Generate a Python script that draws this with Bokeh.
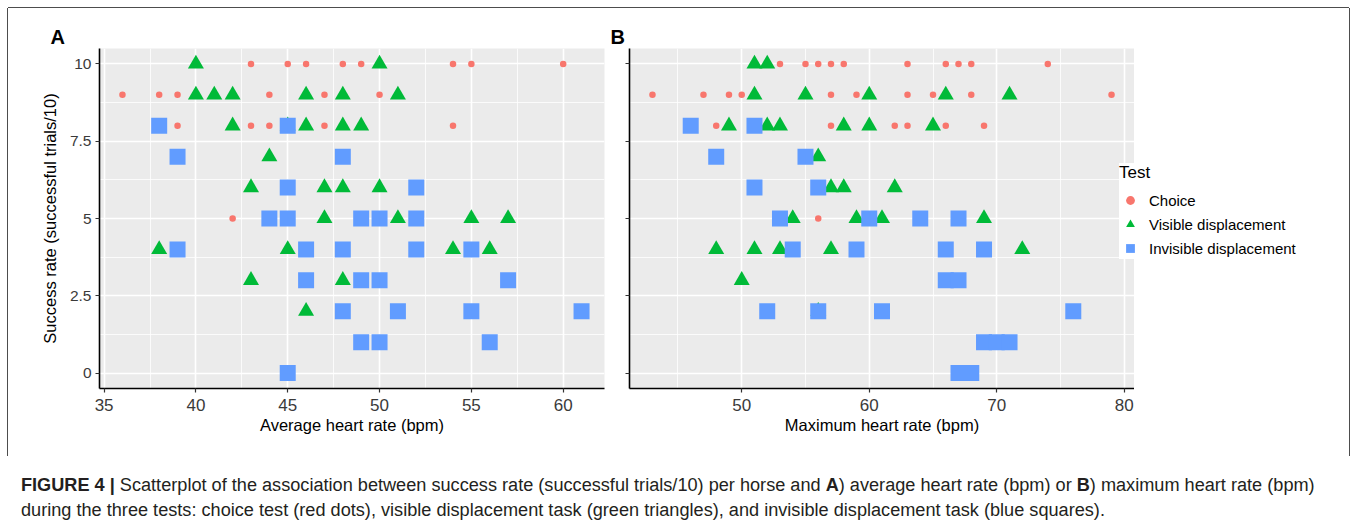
from bokeh.plotting import figure
from bokeh.models import Range1d, FixedTicker, Legend, LegendItem, Div, CustomLabelingPolicy
from bokeh.layouts import row, column
from bokeh.embed import file_html
from bokeh.resources import INLINE

# ---------------- data ----------------
series_names = ["Choice", "Visible displacement", "Invisible displacement"]

# Panel A: average heart rate (bpm) vs success rate
choice_a_x = [43, 45, 46, 48, 49, 54, 55, 60,
              36, 38, 39, 44, 47, 50,
              39, 43, 44, 47, 54,
              42]
choice_a_y = [10, 10, 10, 10, 10, 10, 10, 10,
              9, 9, 9, 9, 9, 9,
              8, 8, 8, 8, 8,
              5]

visible_a_x = [40, 50,
               40, 41, 42, 46, 48, 51,
               42, 45, 46, 48, 49,
               44,
               43, 47, 48, 50,
               47, 51, 55, 57,
               38, 45, 54, 56,
               43, 48,
               46]
visible_a_y = [10, 10,
               9, 9, 9, 9, 9, 9,
               8, 8, 8, 8, 8,
               7,
               6, 6, 6, 6,
               5, 5, 5, 5,
               4, 4, 4, 4,
               3, 3,
               2]

invisible_a_x = [38, 45,
                 39, 48,
                 45, 52,
                 44, 45, 49, 50, 52,
                 39, 46, 48, 52, 55,
                 46, 49, 50, 57,
                 48, 51, 55, 61,
                 49, 50, 56,
                 45]
invisible_a_y = [8, 8,
                 7, 7,
                 6, 6,
                 5, 5, 5, 5, 5,
                 4, 4, 4, 4, 4,
                 3, 3, 3, 3,
                 2, 2, 2, 2,
                 1, 1, 1,
                 0]

# Panel B: maximum heart rate (bpm) vs success rate
choice_b_x = [53, 55, 56, 57, 58, 63, 66, 67, 68, 74,
              43, 47, 49, 50, 57, 59, 63, 65, 68, 79,
              48, 57, 62, 63, 66, 69,
              56]
choice_b_y = [10, 10, 10, 10, 10, 10, 10, 10, 10, 10,
              9, 9, 9, 9, 9, 9, 9, 9, 9, 9,
              8, 8, 8, 8, 8, 8,
              5]

visible_b_x = [51, 52,
               51, 55, 60, 66, 71,
               49, 52, 53, 58, 60, 65,
               56,
               57, 58, 62,
               54, 59, 61, 69,
               48, 51, 53, 57, 72,
               50,
               56]
visible_b_y = [10, 10,
               9, 9, 9, 9, 9,
               8, 8, 8, 8, 8, 8,
               7,
               6, 6, 6,
               5, 5, 5, 5,
               4, 4, 4, 4, 4,
               3,
               2]

invisible_b_x = [46, 51,
                 48, 55,
                 51, 56,
                 53, 60, 64, 67,
                 54, 59, 66, 69,
                 66, 67,
                 52, 56, 61, 76,
                 69, 70, 71,
                 67, 68]
invisible_b_y = [8, 8,
                 7, 7,
                 6, 6,
                 5, 5, 5, 5,
                 4, 4, 4, 4,
                 3, 3,
                 2, 2, 2, 2,
                 1, 1, 1,
                 0, 0]

x_ticks_a = [35, 40, 45, 50, 55, 60]
x_minor_a = [37.5, 42.5, 47.5, 52.5, 57.5, 62.5]
x_ticks_b = [50, 60, 70, 80]
x_minor_b = [45, 55, 65, 75]
y_ticks = [0, 2.5, 5, 7.5, 10]
y_tick_labels = ["0", "2.5", "5", "7.5", "10"]
y_minor = [1.25, 3.75, 6.25, 8.75]

x_label_a = "Average heart rate (bpm)"
x_label_b = "Maximum heart rate (bpm)"
y_label = "Success rate (successful trials/10)"
legend_title = "Test"

caption_html = ("<b>FIGURE 4 |</b> Scatterplot of the association between success rate "
                "(successful trials/10) per horse and <b>A</b>) average heart rate (bpm) or "
                "<b>B</b>) maximum heart rate (bpm)<br>during the three tests: choice test "
                "(red dots), visible displacement task (green triangles), and invisible "
                "displacement task (blue squares).")

# ---------------- style ----------------
FONT = "Liberation Sans"
RED, GREEN, BLUE = "#F8766D", "#00BA38", "#619CFF"
COLORS = [RED, GREEN, BLUE]
MARKERS = ["circle", "triangle", "square"]
SIZES = [6.5, 16, 16]
PANEL_BG = "#EBEBEB"
FIG_H = 448
BORDER_TOP, BORDER_BOTTOM = 40, 68


def expand(vals):
    lo, hi = min(vals), max(vals)
    pad = 0.05 * (hi - lo)
    return lo - pad, hi + pad


def make_panel(tag, xs, xticks, xminor, xlabel, width, bl, br, show_ylab, tag_offset):
    p = figure(width=width, height=FIG_H,
               x_range=Range1d(*expand(xs)), y_range=Range1d(-0.5, 10.5),
               output_backend="svg", toolbar_location=None,
               min_border_left=bl, min_border_right=br,
               min_border_top=BORDER_TOP, min_border_bottom=BORDER_BOTTOM)
    p.background_fill_color = PANEL_BG
    p.border_fill_color = "white"
    p.outline_line_color = None

    p.title.text = tag
    p.title.text_font = FONT
    p.title.text_font_size = "20px"
    p.title.text_font_style = "bold"
    p.title.text_color = "black"
    p.title.align = "left"
    p.title.offset = tag_offset
    p.title.standoff = 2

    p.xaxis.ticker = FixedTicker(ticks=xticks, minor_ticks=xminor)
    p.yaxis.ticker = FixedTicker(ticks=y_ticks, minor_ticks=y_minor)

    for ax in (p.xaxis[0], p.yaxis[0]):
        ax.axis_line_color = "black"
        ax.axis_line_width = 1.6
        ax.major_tick_line_color = "#333333"
        ax.major_tick_line_width = 1.2
        ax.major_tick_out = 4
        ax.major_tick_in = 0
        ax.minor_tick_line_color = None
        ax.major_label_text_font = FONT
        ax.major_label_text_color = "#3a3a3a"
        ax.axis_label_text_font = FONT
        ax.axis_label_text_font_style = "normal"
        ax.axis_label_text_color = "black"
        ax.axis_label_text_font_size = "16.5px"

    p.xaxis.major_label_text_font_size = "17px"
    p.xaxis.major_label_standoff = 6
    p.xaxis.axis_label = xlabel
    p.xaxis.axis_label_standoff = 2

    if show_ylab:
        p.yaxis.major_label_overrides = {t: l for t, l in zip(y_ticks, y_tick_labels)}
        p.yaxis.major_label_text_font_size = "15.5px"
        p.yaxis.major_label_standoff = 4
        p.yaxis.axis_label = y_label
        p.yaxis.axis_label_standoff = 8
    else:
        # ticks only, no tick labels (as in the reference panel B)
        p.yaxis.major_label_text_font_size = "1px"
        p.yaxis.major_label_standoff = 0
        p.yaxis.major_label_policy = CustomLabelingPolicy(
            code="for (const i of Array.from(indices)) { indices.unset(i) }\nreturn indices")

    for g in (p.xgrid[0], p.ygrid[0]):
        g.grid_line_color = "white"
        g.grid_line_width = 1.6
        g.minor_grid_line_color = "white"
        g.minor_grid_line_width = 0.8
    return p


all_a = choice_a_x + visible_a_x + invisible_a_x
all_b = choice_b_x + visible_b_x + invisible_b_x

groups_a = ((choice_a_x, choice_a_y), (visible_a_x, visible_a_y), (invisible_a_x, invisible_a_y))
groups_b = ((choice_b_x, choice_b_y), (visible_b_x, visible_b_y), (invisible_b_x, invisible_b_y))

pA = make_panel("A", all_a, x_ticks_a, x_minor_a, x_label_a, 600, 91, 4, True, -49)
pB = make_panel("B", all_b, x_ticks_b, x_minor_b, x_label_b, 526, 21, 0, False, -19)

for p, groups in ((pA, groups_a), (pB, groups_b)):
    for (gx, gy), m, c, s in zip(groups, MARKERS, COLORS, SIZES):
        p.scatter(gx, gy, marker=m, size=s, fill_color=c, line_color=None)

# legend: separate transparent figure, overlapping the right edge of panel B slightly.
# Its own ranges keep the (panel B) key renderers out of view, so only the legend shows.
pL = figure(width=235, height=FIG_H, x_range=Range1d(0, 1), y_range=Range1d(0, 1),
            x_axis_type=None, y_axis_type=None, output_backend="svg", toolbar_location=None,
            min_border_left=0, min_border_right=0,
            min_border_top=BORDER_TOP, min_border_bottom=BORDER_BOTTOM,
            styles={"margin-left": "-20px"})
pL.background_fill_alpha = 0
pL.border_fill_alpha = 0
pL.outline_line_color = None
pL.grid.visible = False
key_renderers = [pL.scatter(gx, gy, marker=m, size=s, fill_color=c, line_color=None)
                 for (gx, gy), m, c, s in zip(groups_b, MARKERS, COLORS, SIZES)]

legend = Legend(items=[LegendItem(label=n, renderers=[r], index=0)
                       for n, r in zip(series_names, key_renderers)],
                location=(5, 129), title=legend_title)
legend.title_text_font = FONT
legend.title_text_font_size = "17px"
legend.title_text_color = "black"
legend.title_text_font_style = "normal"
legend.title_standoff = 6
legend.label_text_font = FONT
legend.label_text_font_size = "15px"
legend.label_text_color = "black"
legend.glyph_width = 22
legend.glyph_height = 22
legend.label_height = 22
legend.label_standoff = 8
legend.spacing = 2
legend.padding = 7
legend.margin = 0
legend.border_line_color = None
legend.background_fill_color = "white"
legend.background_fill_alpha = 1.0
pL.add_layout(legend, "center")

plots = row(pA, pB, pL,
            styles={"box-shadow": "-1px 0 0 0 #4d4d4d, 0 -1px 0 0 #4d4d4d, 1px 0 0 0 #4d4d4d"})

caption = Div(text=('<div style="font-family:\'Liberation Sans\',Arial,sans-serif;font-size:18.15px;'
                    'line-height:25px;color:#231F20;padding-left:8px;padding-top:12px;'
                    'white-space:nowrap">' + caption_html + '</div>'),
              width=1341, height=63)

layout = column(plots, caption, styles={"margin-left": "8px", "margin-top": "8px"})

with open("out.html", "w") as f:
    f.write(file_html(layout, INLINE))
